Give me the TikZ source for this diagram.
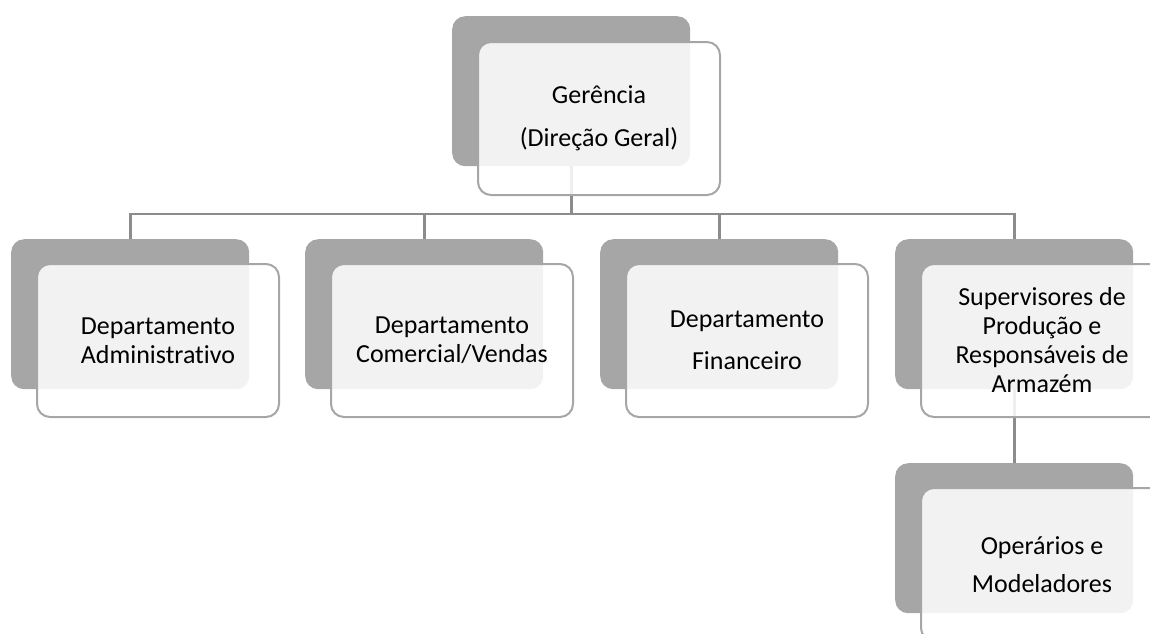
\documentclass[tikz,border=0pt]{standalone}
\usepackage{fontspec}
\setmainfont[Ligatures=NoCommon]{Carlito}
\begin{document}
\begin{tikzpicture}[x=1pt,y=-1pt,
  backbox/.style={rectangle, rounded corners=13pt, fill=darkgray, draw=none,
    minimum width=238pt, minimum height=150pt, inner sep=0pt, anchor=north west},
  frontbox/.style={rectangle, rounded corners=13pt, fill=white, fill opacity=0.86,
    text opacity=1, draw=bordergray, draw opacity=1, line width=2pt,
    minimum width=242pt, minimum height=153pt, inner sep=0pt, anchor=north west,
    align=center, font=\fontsize{26}{29}\selectfont, text=black},
  conn/.style={draw=conngray, line width=2.6pt}
]
\definecolor{darkgray}{HTML}{A6A6A6}
\definecolor{bordergray}{HTML}{A6A6A6}
\definecolor{conngray}{HTML}{8C8C8C}
\useasboundingbox (0,0) rectangle (1150,633);
\clip (0,0) rectangle (1150,633);
% back boxes
\node[backbox] (gb) at (452,16) {};
\node[backbox] (ab) at (11,239) {};
\node[backbox] (cb) at (305,239) {};
\node[backbox] (fb) at (600,239) {};
\node[backbox] (sb) at (895,239) {};
\node[backbox] (ob) at (895,463) {};
% connectors
\coordinate (bar) at (0,214);
\draw[conn] (gb.south) -- (gb.south |- bar) -| (ab.north);
\draw[conn] (gb.south |- bar) -| (cb.north);
\draw[conn] (gb.south |- bar) -| (fb.north);
\draw[conn] (gb.south |- bar) -| (sb.north);
\draw[conn] (sb.south) -- (ob.north);
% front boxes
\node[frontbox] (gf) at (477,41) {Gerência\\[14pt](Direção Geral)};
\node[frontbox] (af) at (36,263) {Departamento\\Administrativo};
\node[frontbox] (cf) at (330,263) {Departamento\\Comercial/Vendas};
\node[frontbox] (ff) at (625,263) {Departamento\\[13pt]Financeiro};
\node[frontbox] (sf) at (920,263) {\fontsize{26}{28.5}\selectfont Supervisores de\\Produção e\\Responsáveis de\\Armazém};
\node[frontbox] (of) at (920,487) {Operários e\\[9pt]Modeladores};
\end{tikzpicture}
\end{document}
